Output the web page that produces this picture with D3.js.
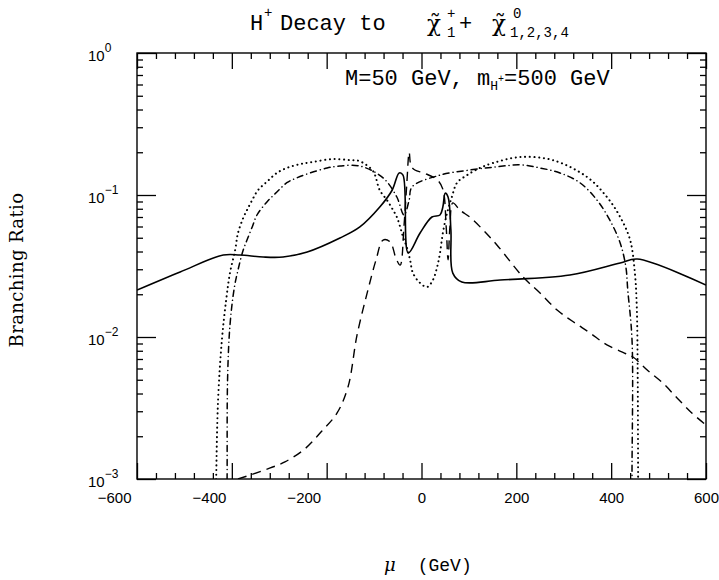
<!DOCTYPE html>
<html>
<head>
<meta charset="utf-8">
<script src="https://cdn.jsdelivr.net/npm/d3@7"></script>
<style>
body { margin: 0; background: #fff; }
</style>
</head>
<body>
<script>
// values: mu in GeV, branching ratio
const solidMu = [-600,-509,-418,-383,-334,-292,-241,-172,-130,-88,-62,-47,-39,-28,-3,22,39,45,50,56,62,66,85,166,313,419,455,600];
const solidBR = [0.0214,0.0287,0.0378,0.0378,0.0366,0.0366,0.0397,0.0498,0.0596,0.0823,0.108,0.143,0.138,0.0391,0.0540,0.0700,0.0723,0.0823,0.103,0.0968,0.0567,0.0282,0.0244,0.0252,0.0273,0.0332,0.0354,0.0232];

const dashMu = [-387,-330,-288,-246,-210,-178,-155,-136,-113,-96,-81,-66,-54,-45,-37,-31,-26,-22,-14,7,33,45,52,56,60,66,81,104,130,159,214,250,286,320,355,391,428,446,476,509,539,570,600];
const dashBR = [0.001,0.00116,0.00132,0.00163,0.00218,0.00292,0.00445,0.0103,0.0214,0.0348,0.0482,0.0467,0.0360,0.0321,0.06,0.12,0.20,0.16,0.150,0.142,0.128,0.110,0.06,0.035,0.06,0.088,0.0784,0.069,0.0567,0.0445,0.0265,0.0204,0.0155,0.0128,0.0107,0.00879,0.00771,0.00723,0.00586,0.00474,0.00372,0.00292,0.00240];

const dotMu = [-434,-433,-429,-421,-412,-404,-393,-387,-376,-368,-357,-345,-326,-305,-284,-256,-229,-187,-151,-130,-104,-98,-88,-73,-60,-52,-45,-39,-31,-24,-18,-3,12,24,33,39,45,54,64,75,96,123,151,208,277,349,391,419,440,450,454,456,457];
const dotBR = [0.0005,0.001,0.0036,0.0095,0.0182,0.0282,0.0410,0.0540,0.0689,0.0784,0.0922,0.108,0.124,0.143,0.155,0.165,0.171,0.179,0.176,0.173,0.150,0.138,0.108,0.0922,0.0784,0.0700,0.0596,0.0506,0.0430,0.0348,0.0282,0.0240,0.0225,0.0252,0.0311,0.0391,0.0540,0.0747,0.0968,0.122,0.138,0.155,0.168,0.185,0.176,0.134,0.0968,0.0700,0.0482,0.0282,0.0163,0.005,0.0005];

const dashDotMu = [-411,-410,-409,-404,-395,-387,-376,-368,-357,-347,-326,-305,-284,-263,-235,-199,-172,-130,-81,-52,-37,-26,-20,39,102,159,208,250,292,334,370,397,419,431,435,444,444,445];
const dashDotBR = [0.0005,0.001,0.005,0.012,0.022,0.0296,0.041,0.0482,0.0596,0.0723,0.0893,0.105,0.122,0.132,0.143,0.155,0.160,0.160,0.132,0.0968,0.0723,0.0922,0.114,0.138,0.150,0.158,0.163,0.155,0.143,0.122,0.0922,0.0667,0.0459,0.0311,0.0214,0.0095,0.001,0.0005];

const xTicks = [-600,-400,-200,0,200,400,600];
const yTicks = [1,0.1,0.01,0.001];
const yTickExp = ["0","\u22121","\u22122","\u22123"];

// set the dimensions and margins of the graph
var margin = {top: 53, right: 13, bottom: 101, left: 137},
    width = 719 - margin.left - margin.right,
    height = 580 - margin.top - margin.bottom;

var root = d3.select("body").append("svg")
    .attr("width", 719)
    .attr("height", 580);

var svg = root.append("g")
    .attr("transform", "translate(" + margin.left + "," + margin.top + ")");

var x = d3.scaleLinear().domain([-600, 600]).range([0, width]);
var y = d3.scaleLog().domain([0.001, 1]).range([height, 0]);

svg.append("clipPath").attr("id", "clip")
    .append("rect").attr("width", width).attr("height", height);

// minor ticks
var xMinor = d3.range(-600, 601, 40).filter(d => d % 200 !== 0);
var yMinor = [];
[0.001, 0.01, 0.1].forEach(function(dec) {
    for (var k = 2; k <= 9; k++) yMinor.push(dec * k);
});

function tidy(g) {
    g.select(".domain").remove();
    g.selectAll("line").attr("stroke", "#000").attr("stroke-width", 1.3);
}

// bottom / top axes
svg.append("g").attr("transform", "translate(0," + height + ")")
    .call(d3.axisBottom(x).tickValues(xTicks).tickSize(-16).tickPadding(13)
        .tickFormat(d => d < 0 ? "\u2212" + (-d) : d))
    .call(tidy)
    .selectAll("text")
    .attr("font-family", "Liberation Sans, Arial, sans-serif")
    .attr("font-size", "15px")
    .attr("fill", "#000")
    // negative labels sit left of their tick, as in the original
    .attr("text-anchor", d => d < 0 ? "end" : "middle")
    .attr("x", d => d < 0 ? -6 : 0);
svg.append("g").attr("transform", "translate(0," + height + ")")
    .call(d3.axisBottom(x).tickValues(xMinor).tickSize(-6).tickFormat(""))
    .call(tidy);
svg.append("g")
    .call(d3.axisTop(x).tickValues(xTicks).tickSize(-16).tickFormat(""))
    .call(tidy);
svg.append("g")
    .call(d3.axisTop(x).tickValues(xMinor).tickSize(-6).tickFormat(""))
    .call(tidy);

// left / right axes
svg.append("g")
    .call(d3.axisLeft(y).tickValues(yTicks).tickSize(-19).tickFormat(""))
    .call(tidy);
svg.append("g")
    .call(d3.axisLeft(y).tickValues(yMinor).tickSize(-6).tickFormat(""))
    .call(tidy);
svg.append("g").attr("transform", "translate(" + width + ",0)")
    .call(d3.axisRight(y).tickValues(yTicks).tickSize(-19).tickFormat(""))
    .call(tidy);
svg.append("g").attr("transform", "translate(" + width + ",0)")
    .call(d3.axisRight(y).tickValues(yMinor).tickSize(-6).tickFormat(""))
    .call(tidy);

// y tick labels: 10 with exponent
var ylab = svg.selectAll(".ylab")
    .data(yTicks)
    .enter().append("text")
    .attr("class", "ylab")
    .attr("x", -49)
    .attr("y", d => y(d) + 8)
    .attr("font-family", "Liberation Sans, Arial, sans-serif")
    .attr("font-size", "15px")
    .attr("fill", "#000");
ylab.append("tspan").text("10");
ylab.append("tspan")
    .attr("dy", -9)
    .attr("font-size", "12px")
    .text((d, i) => yTickExp[i]);

// frame
svg.append("rect")
    .attr("width", width)
    .attr("height", height)
    .attr("fill", "none")
    .attr("stroke", "#000")
    .attr("stroke-width", 1.4);

// curves
var series = [
    {mu: solidMu, br: solidBR, dash: null, w: 1.6, cap: "butt"},
    {mu: dashMu, br: dashBR, dash: "9,6", w: 1.4, cap: "butt"},
    {mu: dotMu, br: dotBR, dash: "0.1,4.6", w: 2, cap: "round"},
    {mu: dashDotMu, br: dashDotBR, dash: "6,4,0.1,4", w: 1.5, cap: "round"}
];

var line = d3.line()
    .x(d => x(d[0]))
    .y(d => y(d[1]))
    .curve(d3.curveCatmullRom.alpha(0.5));

svg.append("g").attr("clip-path", "url(#clip)")
    .selectAll("path")
    .data(series)
    .enter().append("path")
    .attr("d", s => line(s.mu.map((m, i) => [m, s.br[i]])))
    .attr("fill", "none")
    .attr("stroke", "#000")
    .attr("stroke-width", s => s.w)
    .attr("stroke-linecap", s => s.cap)
    .attr("stroke-dasharray", s => s.dash);

// title
var mono = "Liberation Mono, DejaVu Sans Mono, monospace";
var serif = "DejaVu Serif, serif";
var title = root.append("g")
    .attr("font-family", mono)
    .attr("fill", "#000");
title.append("text").attr("x", 250).attr("y", 30).attr("font-size", "22px").text("H");
title.append("text").attr("x", 264).attr("y", 17).attr("font-size", "14px").text("+");
title.append("text").attr("x", 280).attr("y", 30).attr("font-size", "22px").text("Decay to");
title.append("text").attr("x", 427).attr("y", 31).attr("font-size", "23px").attr("font-family", serif).text("\u03c7\u0303");
title.append("text").attr("x", 447).attr("y", 18).attr("font-size", "14px").text("+");
title.append("text").attr("x", 447).attr("y", 37).attr("font-size", "14px").text("1");
title.append("text").attr("x", 459).attr("y", 30).attr("font-size", "22px").text("+");
title.append("text").attr("x", 492).attr("y", 31).attr("font-size", "23px").attr("font-family", serif).text("\u03c7\u0303");
title.append("text").attr("x", 513).attr("y", 18).attr("font-size", "14px").text("0");
title.append("text").attr("x", 510).attr("y", 37).attr("font-size", "14px").text("1,2,3,4");

// annotation
var note = root.append("text")
    .attr("x", 345)
    .attr("y", 85)
    .attr("font-family", mono)
    .attr("font-size", "22px")
    .attr("fill", "#000");
note.append("tspan").text("M=50 GeV, m");
note.append("tspan").attr("dy", 5).attr("font-size", "13px").text("H");
note.append("tspan").attr("dy", -8).attr("font-size", "10px").text("+");
note.append("tspan").attr("dy", 3).text("=500 GeV");

// axis titles
root.append("text")
    .attr("transform", "translate(23,270) rotate(-90)")
    .attr("text-anchor", "middle")
    .attr("font-family", serif)
    .attr("font-size", "18px")
    .attr("letter-spacing", "0.4px")
    .attr("fill", "#000")
    .text("Branching Ratio");

var xt = root.append("text")
    .attr("x", 384)
    .attr("y", 571)
    .attr("font-family", mono)
    .attr("font-size", "18px")
    .attr("fill", "#000");
xt.append("tspan").attr("font-family", serif).attr("font-style", "italic").text("\u03bc");
xt.append("tspan").attr("dx", 22).text("(GeV)");
</script>
</body>
</html>
